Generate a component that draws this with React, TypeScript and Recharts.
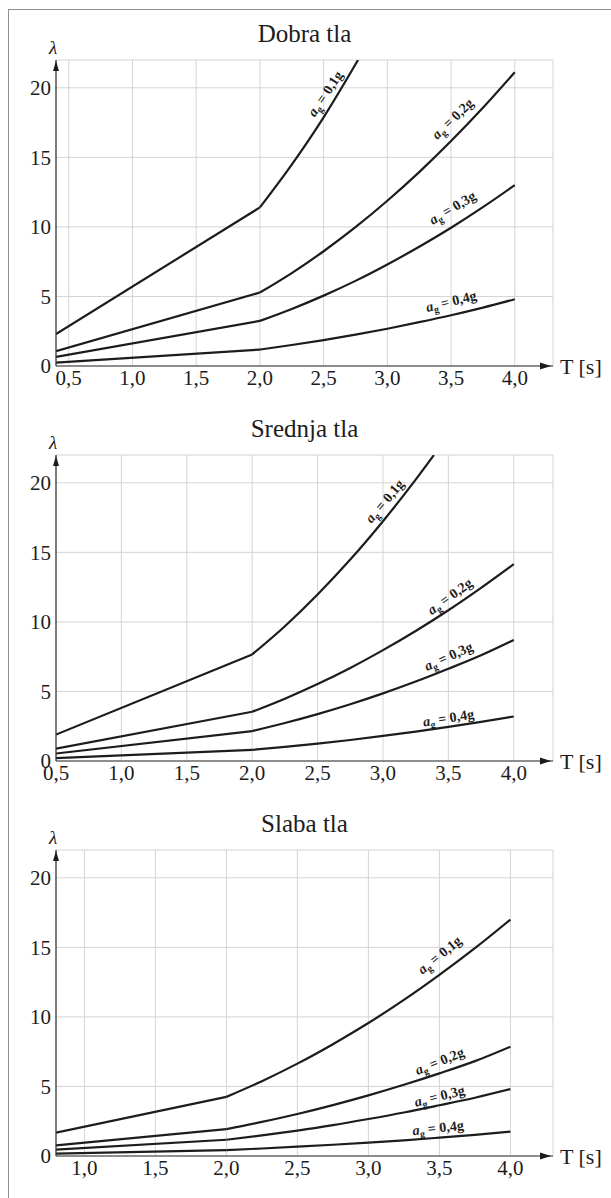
import React from "react";
import { CartesianGrid, Line, LineChart, ReferenceDot, XAxis, YAxis } from "recharts";

const FONT = '"Liberation Serif", "Times New Roman", serif';
const INK = "#1c1c1c";

// ---- data (T in s, lambda) ----
const tickLambda = [0, 5, 10, 15, 20];
const seriesNames = ["0,1g", "0,2g", "0,3g", "0,4g"];

// Dobra tla
const dobraTicksT = [0.5, 1.0, 1.5, 2.0, 2.5, 3.0, 3.5, 4.0];
const dobraT = [0.4, 2.0, 2.25, 2.5, 2.75, 3.0, 3.25, 3.5, 3.75, 4.0];
const dobra01T = [0.4, 2.0, 2.25, 2.5, 2.77];
const dobra01 = [2.3, 11.4, 14.48, 17.88, 22.0];
const dobra02 = [1.06, 5.28, 6.68, 8.25, 9.98, 11.88, 13.94, 16.17, 18.56, 21.12];
const dobra03 = [0.65, 3.24, 4.1, 5.06, 6.12, 7.3, 8.57, 9.94, 11.42, 13.0];
const dobra04 = [0.24, 1.18, 1.51, 1.86, 2.25, 2.68, 3.15, 3.65, 4.2, 4.8];

// Srednja tla
const srednjaTicksT = [0.5, 1.0, 1.5, 2.0, 2.5, 3.0, 3.5, 4.0];
const srednjaT = [0.5, 2.0, 2.25, 2.5, 2.75, 3.0, 3.25, 3.5, 3.75, 4.0];
const srednja01T = [0.5, 2.0, 2.25, 2.5, 2.75, 3.0, 3.25, 3.39];
const srednja01 = [1.9, 7.66, 9.69, 11.97, 14.48, 17.24, 20.23, 22.0];
const srednja02 = [0.89, 3.54, 4.48, 5.53, 6.69, 7.97, 9.35, 10.84, 12.45, 14.16];
const srednja03 = [0.54, 2.15, 2.73, 3.37, 4.08, 4.86, 5.71, 6.63, 7.6, 8.7];
const srednja04 = [0.2, 0.8, 1.01, 1.25, 1.51, 1.8, 2.11, 2.45, 2.81, 3.2];

// Slaba tla
const slabaTicksT = [1.0, 1.5, 2.0, 2.5, 3.0, 3.5, 4.0];
const slabaT = [0.8, 2.0, 2.25, 2.5, 2.75, 3.0, 3.25, 3.5, 3.75, 4.0];
const slaba01 = [1.68, 4.25, 5.38, 6.64, 8.04, 9.56, 11.22, 13.02, 14.94, 17.0];
const slaba02 = [0.77, 1.93, 2.45, 3.02, 3.66, 4.36, 5.12, 5.94, 6.82, 7.86];
const slaba03 = [0.46, 1.17, 1.48, 1.83, 2.22, 2.66, 3.13, 3.65, 4.19, 4.81];
const slaba04 = [0.17, 0.42, 0.54, 0.67, 0.81, 0.96, 1.13, 1.32, 1.52, 1.75];

const toRows = (t: number[], v: number[]) => t.map((T, i) => ({ T, v: v[i] }));
const fmt = (v: number) => v.toFixed(1).replace(".", ",");

type Tag = { T: number; l: number; angle: number };
type PanelProps = {
  title: string;
  domainT: [number, number];
  ticksT: number[];
  lines: { T: number[]; v: number[] }[];
  tags: Tag[];
};

const W = 611;
const H = 395;

function SeriesTag({ cx, cy, text, angle }: any) {
  return (
    <text
      x={cx}
      y={cy}
      transform={`rotate(${angle} ${cx} ${cy})`}
      textAnchor="middle"
      dominantBaseline="central"
      fontFamily={FONT}
      fontWeight="bold"
      fontSize={14}
      fill={INK}
    >
      <tspan fontStyle="italic">a</tspan>
      <tspan fontSize={10} dy={4}>g</tspan>
      <tspan dy={-4}>{" = " + text}</tspan>
    </text>
  );
}

function ArrowRight({ cx, cy }: any) {
  return (
    <g>
      <path d={`M${cx - 13},${cy - 3.5} L${cx - 2},${cy} L${cx - 13},${cy + 3.5} Z`} fill={INK} />
      <text x={cx + 7} y={cy} dominantBaseline="central" fontFamily={FONT} fontSize={22} fill={INK}>
        T [s]
      </text>
    </g>
  );
}

function ArrowUp({ cx, cy }: any) {
  return (
    <g>
      <path d={`M${cx - 3},${cy + 11} L${cx},${cy + 1} L${cx + 3},${cy + 11} Z`} fill={INK} />
      <text
        x={cx - 3}
        y={cy - 13}
        textAnchor="middle"
        dominantBaseline="central"
        fontFamily={FONT}
        fontStyle="italic"
        fontSize={19}
        fill={INK}
      >
        λ
      </text>
    </g>
  );
}

function Panel({ title, domainT, ticksT, lines, tags }: PanelProps) {
  return (
    <div style={{ position: "relative", width: W, height: H, fontFamily: FONT }}>
      <div
        style={{
          position: "absolute",
          left: 56,
          width: 497,
          top: 21,
          textAlign: "center",
          fontSize: 25,
          lineHeight: "25px",
          color: INK
        }}
      >
        {title}
      </div>
      <LineChart
        width={W}
        height={H}
        margin={{ top: 60, right: 58, bottom: 0, left: 0 }}
        style={{ fontFamily: FONT }}
      >
        <CartesianGrid stroke="#d4d4d4" strokeWidth={1} />
        <XAxis
          type="number"
          dataKey="T"
          domain={domainT}
          ticks={ticksT}
          allowDataOverflow
          height={29}
          tickLine={false}
          tickSize={0}
          tickMargin={4}
          tickFormatter={fmt}
          axisLine={{ stroke: "#333", strokeWidth: 1.2 }}
          tick={{ fontFamily: FONT, fontSize: 21, fill: INK }}
        />
        <YAxis
          type="number"
          domain={[0, 22]}
          ticks={tickLambda}
          allowDataOverflow
          width={56}
          tickLine={false}
          tickSize={0}
          tickMargin={5}
          axisLine={{ stroke: "#333", strokeWidth: 1.2 }}
          tick={{ fontFamily: FONT, fontSize: 21, fill: INK }}
        />
        {lines.map((s, i) => {
          const rows = toRows(s.T, s.v);
          // straight part up to T = 2,0, smooth growth after the kink
          return [
            <Line
              key={seriesNames[i] + "a"}
              data={rows.slice(0, 2)}
              dataKey="v"
              type="linear"
              stroke={INK}
              strokeWidth={2.2}
              dot={false}
              activeDot={false}
              isAnimationActive={false}
            />,
            <Line
              key={seriesNames[i] + "b"}
              data={rows.slice(1)}
              dataKey="v"
              type="monotone"
              stroke={INK}
              strokeWidth={2.2}
              dot={false}
              activeDot={false}
              isAnimationActive={false}
            />
          ];
        })}
        {tags.map((t, i) => (
          <ReferenceDot
            key={"tag" + i}
            x={t.T}
            y={t.l}
            r={0}
            ifOverflow="visible"
            shape={(p: any) => <SeriesTag cx={p.cx} cy={p.cy} text={seriesNames[i]} angle={t.angle} />}
          />
        ))}
        <ReferenceDot x={domainT[1]} y={0} r={0} ifOverflow="visible" shape={(p: any) => <ArrowRight cx={p.cx} cy={p.cy} />} />
        <ReferenceDot x={domainT[0]} y={22} r={0} ifOverflow="visible" shape={(p: any) => <ArrowUp cx={p.cx} cy={p.cy} />} />
      </LineChart>
    </div>
  );
}

export default function App() {
  return (
    <div
      style={{
        position: "absolute",
        left: 0,
        top: 0,
        width: W,
        height: 1198,
        background: "#fff",
        overflow: "hidden",
        fontFamily: FONT
      }}
    >
      <div
        style={{
          position: "absolute",
          left: 8,
          top: 9,
          right: -4,
          bottom: -4,
          borderTop: "1.5px solid #8e8e8e",
          borderLeft: "1.5px solid #8e8e8e"
        }}
      />
      <div style={{ position: "absolute", left: 0, top: 0 }}>
        <Panel
          title="Dobra tla"
          domainT={[0.4, 4.3]}
          ticksT={dobraTicksT}
          lines={[
            { T: dobra01T, v: dobra01 },
            { T: dobraT, v: dobra02 },
            { T: dobraT, v: dobra03 },
            { T: dobraT, v: dobra04 }
          ]}
          tags={[
            { T: 2.51, l: 19.6, angle: -56 },
            { T: 3.51, l: 17.8, angle: -44 },
            { T: 3.51, l: 11.4, angle: -31 },
            { T: 3.5, l: 4.67, angle: -14 }
          ]}
        />
      </div>
      <div style={{ position: "absolute", left: 0, top: 395 }}>
        <Panel
          title="Srednja tla"
          domainT={[0.5, 4.3]}
          ticksT={srednjaTicksT}
          lines={[
            { T: srednja01T, v: srednja01 },
            { T: srednjaT, v: srednja02 },
            { T: srednjaT, v: srednja03 },
            { T: srednjaT, v: srednja04 }
          ]}
          tags={[
            { T: 3.01, l: 18.7, angle: -50 },
            { T: 3.51, l: 11.86, angle: -36 },
            { T: 3.5, l: 7.55, angle: -24 },
            { T: 3.5, l: 3.13, angle: -9 }
          ]}
        />
      </div>
      <div style={{ position: "absolute", left: 0, top: 790 }}>
        <Panel
          title="Slaba tla"
          domainT={[0.8, 4.3]}
          ticksT={slabaTicksT}
          lines={[
            { T: slabaT, v: slaba01 },
            { T: slabaT, v: slaba02 },
            { T: slabaT, v: slaba03 },
            { T: slabaT, v: slaba04 }
          ]}
          tags={[
            { T: 3.5, l: 14.47, angle: -39 },
            { T: 3.5, l: 6.85, angle: -22 },
            { T: 3.5, l: 4.33, angle: -14 },
            { T: 3.49, l: 2.05, angle: -6 }
          ]}
        />
      </div>
    </div>
  );
}
